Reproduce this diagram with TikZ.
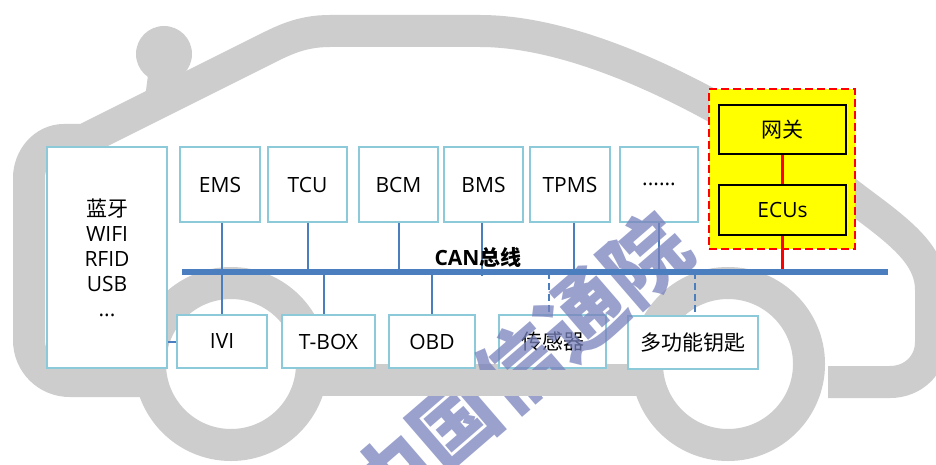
\documentclass[tikz,border=0pt]{standalone}
\usepackage{fontspec}
\setmainfont{Open Sans}
\newfontfamily\cjk{Noto Sans CJK SC}
\definecolor{carGray}{RGB}{205,205,205}
\definecolor{boxBlue}{RGB}{140,202,218}
\definecolor{busBlue}{RGB}{74,126,191}
\definecolor{markBlue}{RGB}{120,130,188}
\definecolor{gwYellow}{RGB}{255,255,0}
\begin{document}
\begin{tikzpicture}[x=1pt,y=-1pt,
  carline/.style={draw=carGray, line width=32pt},
  unit/.style={draw=boxBlue, line width=2.5pt, fill=white, inner sep=0pt,
    align=center, font=\fontsize{21}{25}\selectfont},
  toprow/.style={unit, minimum height=75pt},
  botrow/.style={unit, minimum height=53pt},
  gwbox/.style={draw=red, dash pattern=on 8pt off 4pt, line width=2pt,
    fill=gwYellow, minimum width=146pt, minimum height=160pt, inner sep=0pt},
  gwunit/.style={draw=black, line width=2.5pt, fill=gwYellow, inner sep=0pt,
    minimum width=127pt, minimum height=49pt, font=\fontsize{21}{25}\selectfont},
  link/.style={draw=busBlue, line width=2pt},
  dlink/.style={link, dash pattern=on 7pt off 4pt},
  rlink/.style={draw=red, line width=2.5pt},
  bus/.style={draw=busBlue, line width=6pt}]

% canvas
\fill[white] (0,0) rectangle (936,465);
\useasboundingbox (0,0) rectangle (936,465);
\clip (0,0) rectangle (936,465);

% car silhouette
\draw[carline] (140,381) -- (70,381) .. controls (47,381) and (29,363) .. (29,340)
  -- (29,178) .. controls (29,158) and (44,140) .. (64,140) -- (84,140)
  -- (260,52) .. controls (282,41) and (300,31) .. (330,31) -- (480,31)
  .. controls (600,31) and (760,125) .. (857,200)
  .. controls (900,232) and (931,255) .. (931,290) -- (931,342)
  .. controls (931,365) and (913,382) .. (890,382) -- (828,382);
\fill[carGray] (164,54) circle (28pt);
\fill[carGray] (150,60) -- (178,60) -- (185,92) -- (145,98) -- cycle;
\draw[carline] (231,364) circle (81pt);
\draw[carline] (728,364) circle (81pt);
\draw[carline] (320,380) -- (640,380);

% gateway domain
\node[gwbox] (gw) at (782,169) {};
\node[gwunit] (gate) at (782.5,129.5) {\cjk 网关};
\node[gwunit, minimum height=50pt] (ecus) at (782.5,210) {ECUs};

% external interfaces
\node[unit, minimum width=120pt, minimum height=221pt] (ext) at (107,257.5)
  {{\cjk 蓝牙}\\WIFI\\RFID\\USB\\...};

% upper ECUs
\node[toprow, minimum width=80pt] (ems)  at (220,184.5)   {EMS};
\node[toprow, minimum width=79pt] (tcu)  at (307.5,184.5) {TCU};
\node[toprow, minimum width=79pt] (bcm)  at (398.5,184.5) {BCM};
\node[toprow, minimum width=79pt] (bms)  at (483.5,184.5) {BMS};
\node[toprow, minimum width=80pt] (tpms) at (570,184.5)   {TPMS};
\node[toprow, minimum width=78pt] (more) at (659,184.5)   {......};

% lower ECUs
\node[botrow, minimum width=90pt]  (ivi)  at (222,341.5)   {IVI};
\node[botrow, minimum width=93pt]  (tbox) at (328.5,341.5) {T-BOX};
\node[botrow, minimum width=86pt]  (obd)  at (432,341.5)   {OBD};
\node[botrow, minimum width=107pt] (sens) at (552.5,341.5) {\cjk 传感器};
\node[botrow, minimum width=130pt] (key)  at (693,342.5)   {\cjk 多功能钥匙};

% CAN bus
\coordinate (busW) at (182,272);
\coordinate (busE) at (888,272);

\draw[link] ([xshift=2pt]ems.south) -- ([xshift=2pt]ems.south |- ivi.north);
\draw[link] (tcu.south) -- (tcu.south |- busW);
\draw[link] (bcm.south) -- (bcm.south |- busW);
\draw[link] ([xshift=-1.5pt]bms.south) -- ([xshift=-1.5pt,yshift=-4pt]bms.south |- busW);
\draw[link] ([xshift=4pt]tpms.south) -- ([xshift=4pt]tpms.south |- busW);
\draw[link] (more.south) -- (more.south |- busW);
\draw[link] ([xshift=-4.5pt]tbox.north) -- ([xshift=-4.5pt]tbox.north |- busW);
\draw[link] (obd.north) -- (obd.north |- busW);
\draw[dlink] ([xshift=-3.5pt]sens.north |- busW) -- ([xshift=-3.5pt]sens.north);
\draw[dlink] ([xshift=2pt]key.north |- busW) -- ([xshift=2pt]key.north);
\draw[link] (ivi.west) -- (ivi.west -| ext.east);
\draw[rlink] (gate.south) -- (ecus.north);
\draw[rlink] (ecus.south) -- (ecus.south |- busW);

\draw[bus] (busW) -- (busE);
\node[font=\bfseries\fontsize{21}{25}\selectfont] (canlabel) at (478,257)
  {CAN{\cjk\bfseries 总线}};

% watermark
\node[rotate=40.8, text=markBlue, opacity=0.75, inner sep=0pt,
  font=\cjk\bfseries\fontsize{84}{84}\selectfont] (mark) at (518,368) {中国信通院};

% sill between the wheels and the bus stay above the watermark
\fill[carGray] (322,370) rectangle (638,396);
\draw[bus] (busW) -- (busE);
\end{tikzpicture}
\end{document}
